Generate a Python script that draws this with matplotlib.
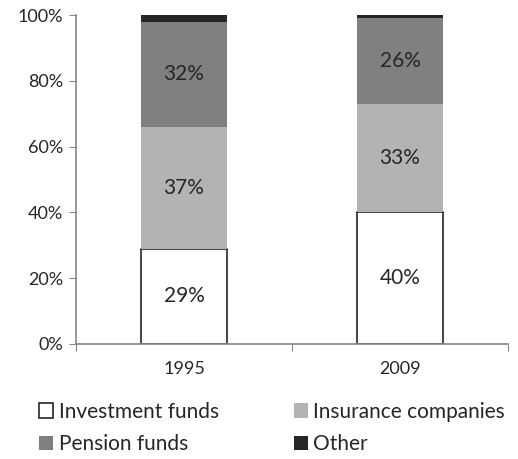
import matplotlib.pyplot as plt
import numpy as np

plt.rcParams['font.family'] = ['Lato', 'DejaVu Sans']

years = ['1995', '2009']
series = ['Investment funds', 'Insurance companies', 'Pension funds', 'Other']
investment = [29, 40]
insurance = [37, 33]
pension = [32, 26]
other = [2, 1]
colors = ['#ffffff', '#b3b3b3', '#808080', '#262626']
text_col = '#262626'
axis_col = '#868686'

fig = plt.figure(figsize=(5.18, 4.59), dpi=100)
ax = fig.add_axes([76 / 518, 1 - 344 / 459, 432 / 518, 329 / 459])

x = np.arange(len(years))
bottom = np.zeros(len(years))
handles = []
for name, vals, col in zip(series, [investment, insurance, pension, other], colors):
    edge = '#262626' if name == 'Investment funds' else 'none'
    b = ax.bar(x, vals, 0.4, bottom=bottom, color=col, edgecolor=edge, linewidth=1.2, label=name)
    handles.append(b)
    if name != 'Other':
        for xi, v, bt in zip(x, vals, bottom):
            ax.text(xi, bt + v / 2, f'{v}%', ha='center', va='center', fontsize=15, color=text_col)
    bottom += np.array(vals)

ax.set_xlim(-0.5, 1.5)
ax.set_ylim(0, 100)
ax.set_yticks(np.arange(0, 101, 20))
ax.set_yticklabels([f'{v}%' for v in range(0, 101, 20)])
ax.set_xticks([-0.5, 0.5, 1.5])
ax.set_xticklabels([])
ax.set_xticks(x, minor=True)
ax.set_xticklabels(years, minor=True)
ax.tick_params(axis='x', which='minor', length=0, pad=12, labelsize=13, labelcolor=text_col)
ax.tick_params(axis='x', which='major', length=5, color=axis_col, direction='out')
ax.tick_params(axis='y', length=5, color=axis_col, labelsize=13, labelcolor=text_col, pad=4)
for s in ['top', 'right']:
    ax.spines[s].set_visible(False)
for s in ['left', 'bottom']:
    ax.spines[s].set_color(axis_col)
    ax.spines[s].set_linewidth(1.2)

# row-wise order like the original legend
order = [0, 2, 1, 3]
fig.legend(handles=[handles[i] for i in order], labels=[series[i] for i in order], ncol=2, loc='upper left',
           bbox_to_anchor=(20 / 518, 1 - 383 / 459), frameon=False, fontsize=15, handlelength=0.7,
           handleheight=0.7, handletextpad=0.25, columnspacing=3.6, labelspacing=0.6, labelcolor=text_col)

fig.savefig('out.png', dpi=100)
